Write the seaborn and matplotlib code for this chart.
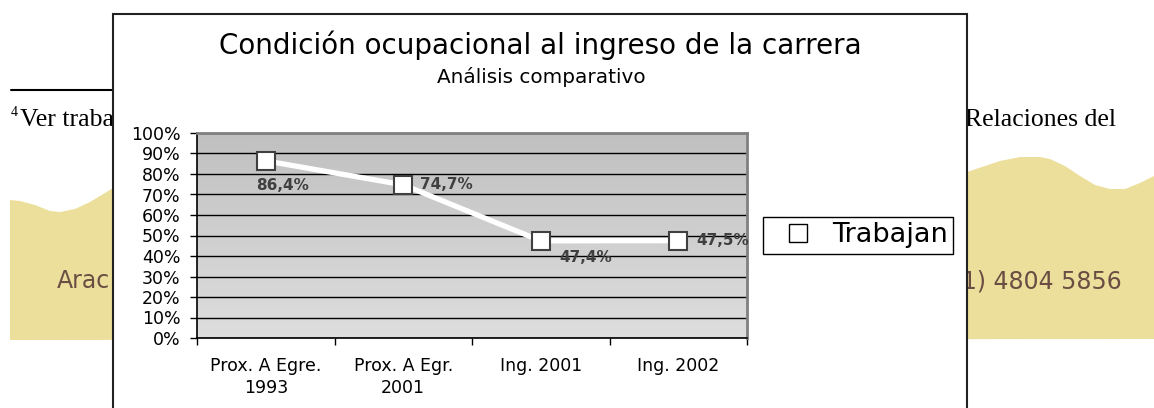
import numpy as np
import pandas as pd
import seaborn as sns
import matplotlib.pyplot as plt
from matplotlib.colors import LinearSegmentedColormap
from matplotlib.lines import Line2D
from matplotlib.patches import Rectangle, Polygon

# data
categorias = ["Prox. A Egre.\n1993", "Prox. A Egr.\n2001", "Ing. 2001", "Ing. 2002"]
trabajan = [0.864, 0.747, 0.474, 0.475]
etiquetas = ["86,4%", "74,7%", "47,4%", "47,5%"]
serie = "Trabajan"

titulo = "Condición ocupacional al ingreso de la carrera"
subtitulo = "Análisis comparativo"

df = pd.DataFrame({"cat": categorias, "valor": trabajan})

sns.set_theme(style="white")
plt.rcParams["font.family"] = ["DejaVu Sans"]
for k in ["text.color", "axes.labelcolor", "xtick.color", "ytick.color"]:
    plt.rcParams[k] = "black"

W, H = 1154, 408
fig = plt.figure(figsize=(W / 100, H / 100), dpi=100)
fig.patch.set_facecolor("white")

# --- background page (scanned document behind the chart), pixel coords
bg = fig.add_axes([0, 0, 1, 1])
bg.set_xlim(0, W)
bg.set_ylim(H, 0)
bg.axis("off")

wave_x = [10, 20, 35, 50, 60, 75, 90, 105, 113, 500, 967, 985, 1000, 1020, 1040, 1050,
          1065, 1080, 1095, 1110, 1125, 1140, 1154]
wave_y = [200, 201, 205, 211, 212, 209, 202, 193, 188, 180, 172, 166, 161, 157, 157, 159,
          166, 176, 185, 189, 189, 183, 176]
band = list(zip(wave_x, wave_y)) + [(1154, 339), (10, 340)]
bg.add_patch(Polygon(band, closed=True, facecolor="#ECDF9B", edgecolor="none", zorder=1))

bg.plot([11, 113], [90, 90], color="black", lw=1.5, zorder=2)
bg.text(11, 116, "4", fontsize=10, family="Liberation Serif", va="baseline", zorder=2)
bg.text(20, 126, "Ver trabajo", fontsize=18.5, family="Liberation Serif", va="baseline", zorder=2)
bg.text(1116, 126, "Relaciones del", fontsize=18.5, family="Liberation Serif",
        va="baseline", ha="right", zorder=2)
bg.text(57, 288, "Arac", fontsize=17, color="#6A4E44", va="baseline", zorder=2)
bg.text(1122, 288, "(011) 4804 5856", fontsize=17, color="#6A4E44", va="baseline",
        ha="right", zorder=2)

# chart frame
bg.add_patch(Rectangle((113, 14), 967 - 113, 420, facecolor="white",
                       edgecolor="#222222", lw=1.5, zorder=5))
bg.text(540, 54, titulo, fontsize=20, ha="center", va="baseline", zorder=6)
bg.text(541, 83, subtitulo, fontsize=14.4, ha="center", va="baseline", zorder=6)

# --- plot area
ax = fig.add_axes([197 / W, 1 - 338 / H, (747 - 197) / W, (338 - 133) / H])
grad = LinearSegmentedColormap.from_list("g", ["#c0c0c0", "#dedede"])
ax.imshow(np.linspace(0, 1, 256).reshape(-1, 1), extent=[-0.5, 3.5, 0, 1],
          aspect="auto", cmap=grad, zorder=0)

sns.lineplot(data=df, x="cat", y="valor", ax=ax, sort=False, color="white", lw=3.8,
             marker="s", markersize=13, markerfacecolor="white",
             markeredgecolor="#404040", markeredgewidth=1.5, zorder=3)

ax.set_xlim(-0.5, 3.5)
ax.set_ylim(0, 1)
ax.set_yticks(np.arange(0, 1.01, 0.1))
ax.set_yticklabels([f"{int(round(v * 100))}%" for v in np.arange(0, 1.01, 0.1)])
ax.set_xticks(range(len(categorias)))
ax.set_xticklabels(categorias, linespacing=1.25)
ax.set_xticks(np.arange(-0.5, 3.6, 1), minor=True)
ax.tick_params(axis="x", which="major", length=0, pad=14, labelsize=12.5)
ax.tick_params(axis="x", which="minor", length=5, width=1, color="black", direction="out")
ax.tick_params(axis="y", length=5, width=1, color="black", direction="out", pad=7, labelsize=12.5)
ax.tick_params(left=True, bottom=True, which="both")
ax.set_xlabel("")
ax.set_ylabel("")
ax.yaxis.grid(True, color="black", lw=1)
ax.set_axisbelow(True)
for s in ["left", "bottom"]:
    ax.spines[s].set_color("black")
    ax.spines[s].set_linewidth(1.2)
for s in ["top", "right"]:
    ax.spines[s].set_color("#808080")
    ax.spines[s].set_linewidth(2)

offs = [(17, -25, "center"), (17, 0, "left"), (45, -17, "center"), (18, 0, "left")]
for i, (v, t) in enumerate(zip(trabajan, etiquetas)):
    dx, dy, ha = offs[i]
    ax.annotate(t, (i, v), xytext=(dx, dy), textcoords="offset pixels", ha=ha, va="center",
                fontsize=11, fontweight="bold", color="#404040", zorder=4)

h = Line2D([], [], ls="none", marker="s", markersize=13, markerfacecolor="white",
           markeredgecolor="black", markeredgewidth=1)
fig.legend(handles=[h], labels=[serie], loc="center left",
           bbox_to_anchor=(763 / W, 1 - 235.5 / H), frameon=True, fancybox=False,
           edgecolor="black", fontsize=19.5, handlelength=2.2, handletextpad=0.15,
           borderpad=0.2, borderaxespad=0, framealpha=1)

plt.savefig("out.png", dpi=100)
